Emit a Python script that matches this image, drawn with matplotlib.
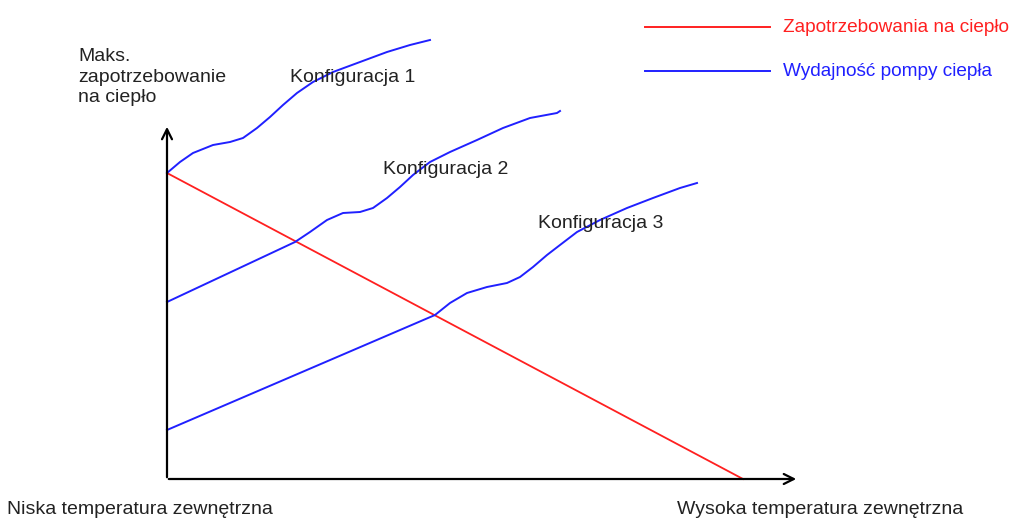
import matplotlib.pyplot as plt

plt.rcParams['font.family'] = ['Liberation Sans', 'DejaVu Sans']

# Values (x: temperature units, y: heat demand units, origin at axes corner)
demand_x = [0, 576]
demand_y = [306, 0]

conf1_x = [0, 13, 26, 46, 63, 76, 90, 103, 116, 130, 146, 166, 193, 220, 243, 263]
conf1_y = [306, 317, 326, 334, 337, 341, 351, 362, 374, 386, 397, 407, 417, 427, 434, 439]

conf2_x = [0, 128, 143, 160, 176, 193, 206, 220, 233, 246, 263, 283, 310, 336, 363, 390, 393]
conf2_y = [177, 237, 247, 259, 266, 267, 271, 281, 292, 304, 317, 327, 339, 351, 361, 366, 368]

conf3_x = [0, 268, 283, 300, 320, 340, 353, 366, 380, 393, 410, 433, 460, 486, 513, 530]
conf3_y = [49, 164, 176, 186, 192, 196, 202, 212, 224, 234, 247, 259, 271, 281, 291, 296]

conf_labels = ['Konfiguracja 1', 'Konfiguracja 2', 'Konfiguracja 3']
conf_label_pos = [(123, 402), (216, 309), (371, 255)]

legend_labels = ['Zapotrzebowania na ciepło', 'Wydajność pompy ciepła']

fig = plt.figure(figsize=(10.24, 5.2), dpi=100)
ax = fig.add_axes([0, 0, 1, 1])
ax.set_xlim(-167, 1024 - 167)
ax.set_ylim(-41, 479)
ax.axis('off')

# axes with open arrows
ax.annotate('', xy=(0, 355), xytext=(0, -1),
            arrowprops=dict(arrowstyle='->', lw=1.6, color='black', mutation_scale=18))
ax.annotate('', xy=(632, 0), xytext=(-1, 0),
            arrowprops=dict(arrowstyle='->', lw=1.6, color='black', mutation_scale=18))

ax.plot(demand_x, demand_y, color='#ff2020', lw=1.3)
for xs, ys in [(conf1_x, conf1_y), (conf2_x, conf2_y), (conf3_x, conf3_y)]:
    ax.plot(xs, ys, color='#2020ff', lw=1.4, solid_joinstyle='round')

txt = '#222222'
for lab, (x, y) in zip(conf_labels, conf_label_pos):
    ax.text(x, y, lab, fontsize=14, color=txt, va='center', ha='left')

ax.text(-89, 402, 'Maks.\nzapotrzebowanie\nna ciepło', fontsize=14, color=txt,
        va='center', ha='left', linespacing=1.25)
ax.text(-160, -31, 'Niska temperatura zewnętrzna', fontsize=14, color=txt,
        va='center', ha='left')
ax.text(510, -31, 'Wysoka temperatura zewnętrzna', fontsize=14, color=txt,
        va='center', ha='left')

# legend drawn by hand
ax.plot([478, 603], [452, 452], color='#ff2020', lw=1.4)
ax.text(616, 452, legend_labels[0], fontsize=13.7, color='#ff2020', va='center', ha='left')
ax.plot([478, 603], [408, 408], color='#2020ff', lw=1.4)
ax.text(616, 408, legend_labels[1], fontsize=13.7, color='#2020ff', va='center', ha='left')

fig.savefig('out.png', dpi=100)
